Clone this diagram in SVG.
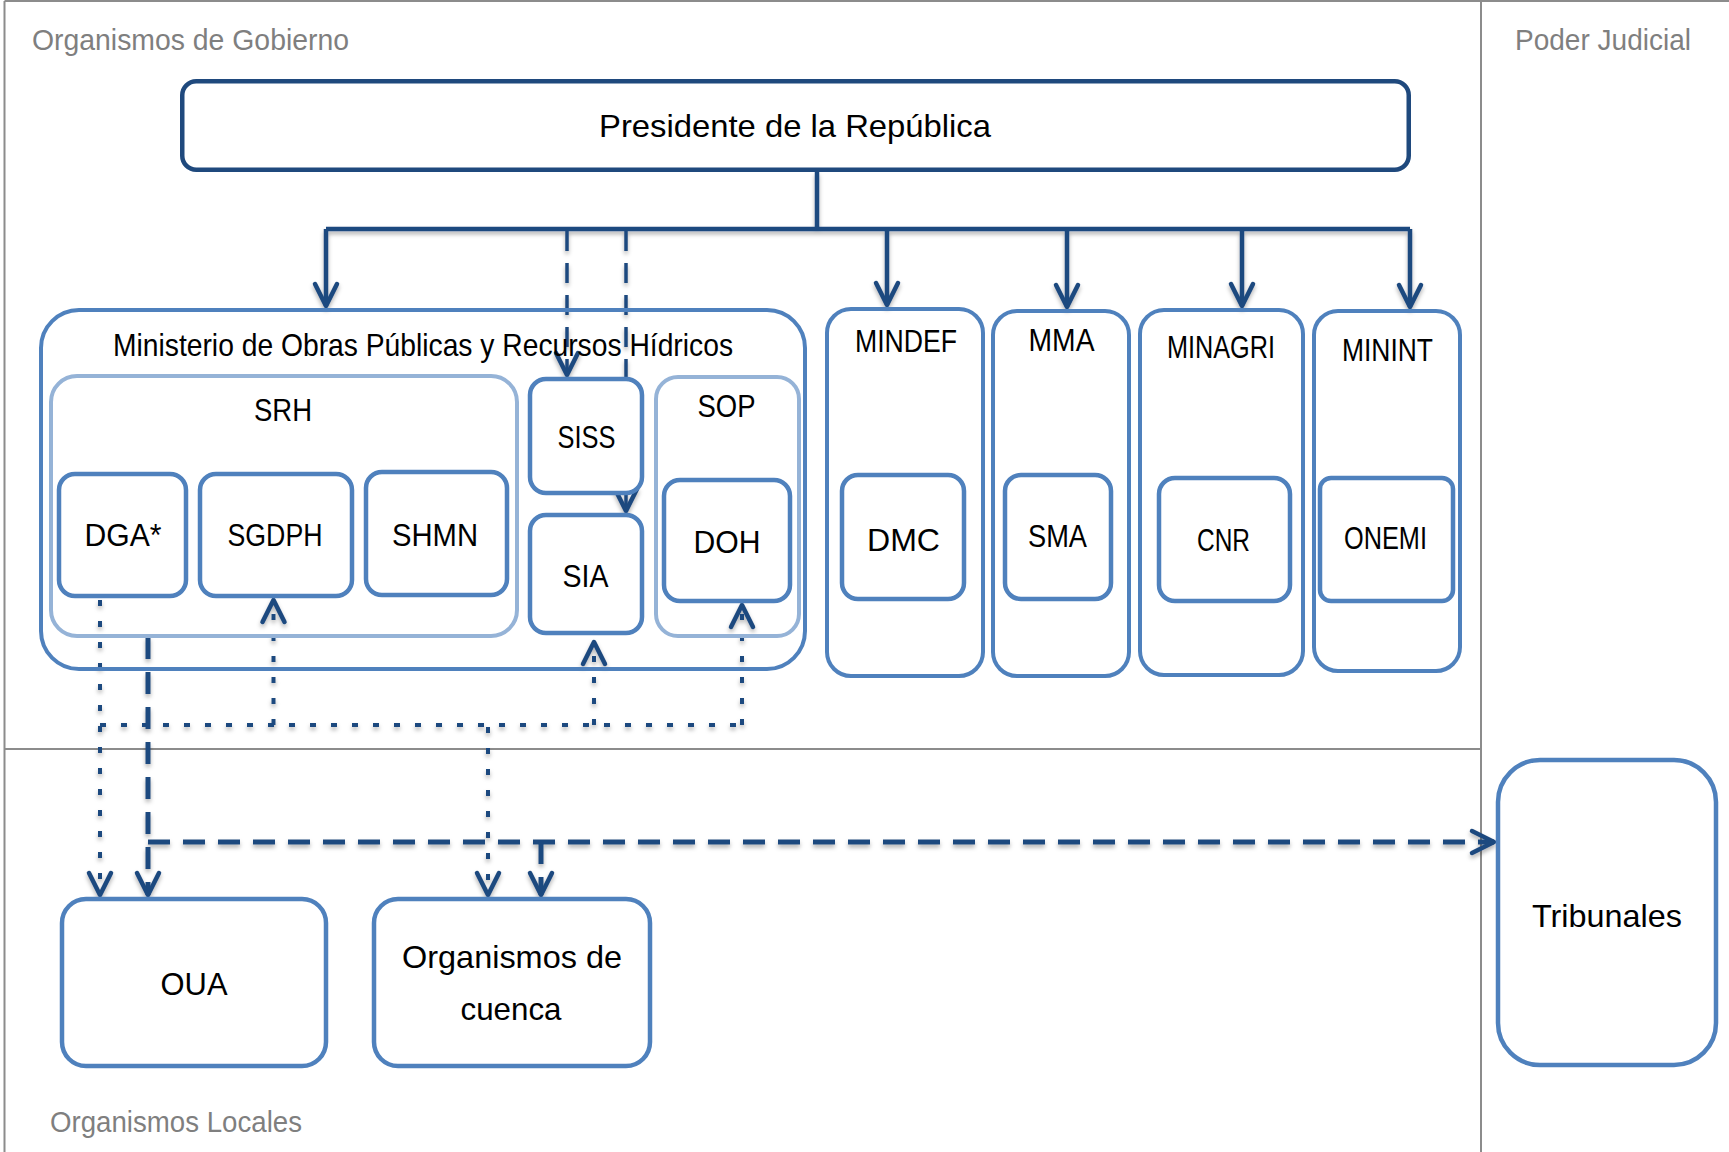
<svg xmlns="http://www.w3.org/2000/svg" width="1729" height="1152" viewBox="0 0 1729 1152">
<style>
.frame{stroke:#8c8c8c;stroke-width:2;fill:none}
.lane{font-family:"Liberation Sans",Arial,sans-serif;fill:#7f7f7f;font-size:29px}
.t{font-family:"Liberation Sans",Arial,sans-serif;fill:#000;text-anchor:middle;font-size:32px}
.pres{fill:#fff;stroke:#1f497d;stroke-width:4.5}
.box{fill:#fff;stroke:#4f81bd;stroke-width:4.5}
.grp{fill:none;stroke:#4f81bd;stroke-width:4}
.light{fill:none;stroke:#95b3d7;stroke-width:4}
.solid{fill:none;stroke:#1f4a7f;stroke-width:4.5}
.dash{fill:none;stroke:#1f4a7f;stroke-width:5;stroke-dasharray:22 13}
.dashs{fill:none;stroke:#1f4a7f;stroke-width:3.5;stroke-dasharray:20 12}
.dot{fill:none;stroke:#1f4a7f;stroke-width:4;stroke-dasharray:6 15}
</style>
<defs>
<filter id="sh" x="-5%" y="-5%" width="110%" height="110%">
<feDropShadow dx="0" dy="3" stdDeviation="2" flood-color="#000" flood-opacity="0.3"/>
</filter>
<marker id="ah" markerUnits="userSpaceOnUse" viewBox="-26 -14 30 28" markerWidth="30" markerHeight="28" refX="0" refY="0" orient="auto" overflow="visible">
<path d="M-22,-11 Q-8,-4 0,0 Q-8,4 -22,11" fill="none" stroke="#1f4a7f" stroke-width="4.5" stroke-dasharray="none" stroke-linecap="round" stroke-linejoin="round"/>
</marker>
</defs>
<rect width="1729" height="1152" fill="#fff"/>
<g id="lanes">
<path class="frame" d="M4.5,1 H1729 M4.5,1 V1152 M1481,1 V1152 M4.5,749 H1481"/>
<text class="lane" x="32" y="50" font-size="30" textLength="317" lengthAdjust="spacingAndGlyphs">Organismos de Gobierno</text>
<text class="lane" x="1515" y="50" textLength="176" lengthAdjust="spacingAndGlyphs">Poder Judicial</text>
<text class="lane" x="50" y="1132" font-size="28" textLength="252" lengthAdjust="spacingAndGlyphs">Organismos Locales</text>
</g>
<g id="connectors" filter="url(#sh)">
<path class="solid" d="M817,172 V229 M326,229 H1410"/>
<path class="solid" d="M326,229 V306" marker-end="url(#ah)"/>
<path class="solid" d="M887,229 V305" marker-end="url(#ah)"/>
<path class="solid" d="M1067,229 V307" marker-end="url(#ah)"/>
<path class="solid" d="M1242,229 V306" marker-end="url(#ah)"/>
<path class="solid" d="M1410,229 V307" marker-end="url(#ah)"/>
<path class="dashs" d="M567,231 V375" marker-end="url(#ah)"/>
<path class="dashs" d="M626,231 V511" marker-end="url(#ah)"/>
<path class="dot" d="M100,600 V895" marker-end="url(#ah)"/>
<path class="dot" d="M100,725 H742"/>
<path class="dot" d="M273.5,725 V600" marker-end="url(#ah)"/>
<path class="dot" d="M594,725 V642" marker-end="url(#ah)"/>
<path class="dot" d="M742,725 V605" marker-end="url(#ah)"/>
<path class="dot" d="M488,727 V895" marker-end="url(#ah)"/>
<path class="dash" d="M148,637 V895" marker-end="url(#ah)"/>
<path class="dash" d="M148,842 H1494" marker-end="url(#ah)"/>
<path class="dash" d="M541,842 V895" marker-end="url(#ah)"/>
</g>
<g id="presidente">
<rect class="pres" x="182.25" y="81.25" width="1226.5" height="88.5" rx="14"/>
<text class="t" x="795" y="137" font-size="35" textLength="392" lengthAdjust="spacingAndGlyphs">Presidente de la República</text>
</g>
<g id="mop">
<rect class="grp" x="41" y="310" width="764" height="359" rx="38"/>
<text class="t" x="423" y="356" font-size="31" textLength="620" lengthAdjust="spacingAndGlyphs">Ministerio de Obras Públicas y Recursos Hídricos</text>
</g>
<g id="srh">
<rect class="light" x="51" y="376" width="466" height="260" rx="26"/>
<text class="t" x="283" y="421" textLength="58" lengthAdjust="spacingAndGlyphs">SRH</text>
</g>
<g id="dga">
<rect class="box" x="59" y="474" width="127" height="122" rx="16"/>
<text class="t" x="123" y="546" font-size="31" textLength="77" lengthAdjust="spacingAndGlyphs">DGA*</text>
</g>
<g id="sgdph">
<rect class="box" x="200" y="474" width="152" height="122" rx="16"/>
<text class="t" x="275" y="546" textLength="95" lengthAdjust="spacingAndGlyphs">SGDPH</text>
</g>
<g id="shmn">
<rect class="box" x="366" y="472" width="141" height="123" rx="16"/>
<text class="t" x="435" y="546" textLength="86" lengthAdjust="spacingAndGlyphs">SHMN</text>
</g>
<g id="siss">
<rect class="box" x="530" y="379" width="112" height="114" rx="16"/>
<text class="t" x="586.5" y="448" textLength="58" lengthAdjust="spacingAndGlyphs">SISS</text>
</g>
<g id="sia">
<rect class="box" x="530" y="515" width="112" height="118" rx="16"/>
<text class="t" x="585.5" y="587" textLength="46" lengthAdjust="spacingAndGlyphs">SIA</text>
</g>
<g id="sop">
<rect class="light" x="656" y="377" width="143" height="259" rx="22"/>
<text class="t" x="726.5" y="417" textLength="58" lengthAdjust="spacingAndGlyphs">SOP</text>
</g>
<g id="doh">
<rect class="box" x="664" y="480" width="126" height="121" rx="16"/>
<text class="t" x="727" y="553" textLength="67" lengthAdjust="spacingAndGlyphs">DOH</text>
</g>
<g id="mindef">
<rect class="grp" x="827" y="309" width="156" height="367" rx="24"/>
<text class="t" x="906" y="352" font-size="31" textLength="102" lengthAdjust="spacingAndGlyphs">MINDEF</text>
</g>
<g id="dmc">
<rect class="box" x="842" y="475" width="122" height="124" rx="16"/>
<text class="t" x="903.5" y="551" font-size="33" textLength="73" lengthAdjust="spacingAndGlyphs">DMC</text>
</g>
<g id="mma">
<rect class="grp" x="993" y="311" width="136" height="365" rx="24"/>
<text class="t" x="1061.5" y="351" font-size="29.5" textLength="66" lengthAdjust="spacingAndGlyphs">MMA</text>
</g>
<g id="sma">
<rect class="box" x="1005" y="475" width="106" height="124" rx="16"/>
<text class="t" x="1057.5" y="547" font-size="29.5" textLength="59" lengthAdjust="spacingAndGlyphs">SMA</text>
</g>
<g id="minagri">
<rect class="grp" x="1140" y="310" width="163" height="365" rx="24"/>
<text class="t" x="1221" y="358" font-size="30" textLength="108" lengthAdjust="spacingAndGlyphs">MINAGRI</text>
</g>
<g id="cnr">
<rect class="box" x="1159" y="478" width="131" height="123" rx="16"/>
<text class="t" x="1223.5" y="551" font-size="29.5" textLength="53" lengthAdjust="spacingAndGlyphs">CNR</text>
</g>
<g id="minint">
<rect class="grp" x="1314" y="311" width="146" height="360" rx="24"/>
<text class="t" x="1387.5" y="361" font-size="30" textLength="91" lengthAdjust="spacingAndGlyphs">MININT</text>
</g>
<g id="onemi">
<rect class="box" x="1320" y="478" width="133" height="123" rx="11"/>
<text class="t" x="1385.5" y="549" font-size="29.5" textLength="83" lengthAdjust="spacingAndGlyphs">ONEMI</text>
</g>
<g id="oua">
<rect class="box" x="62" y="899" width="264" height="167" rx="24"/>
<text class="t" x="194" y="995" font-size="32.5" textLength="67" lengthAdjust="spacingAndGlyphs">OUA</text>
</g>
<g id="cuenca">
<rect class="box" x="374" y="899" width="276" height="167" rx="24"/>
<text class="t" x="512" y="968" font-size="34" textLength="220" lengthAdjust="spacingAndGlyphs">Organismos de</text>
<text class="t" x="511" y="1020" font-size="34" textLength="101" lengthAdjust="spacingAndGlyphs">cuenca</text>
</g>
<g id="tribunales">
<rect class="box" x="1498" y="760" width="218" height="305" rx="42"/>
<text class="t" x="1607" y="927" font-size="35" textLength="150" lengthAdjust="spacingAndGlyphs">Tribunales</text>
</g>
</svg>
